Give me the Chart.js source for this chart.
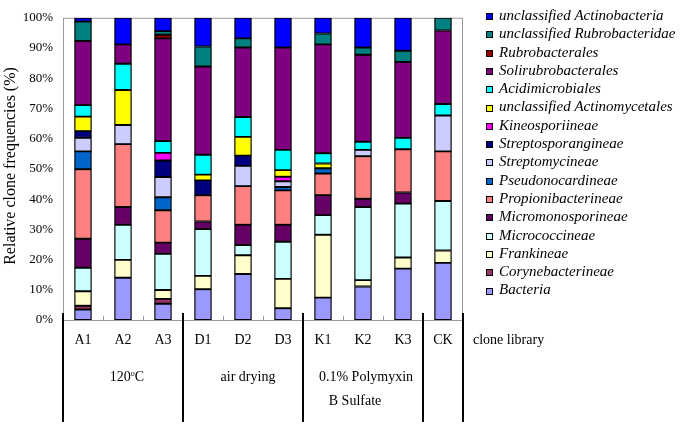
<!DOCTYPE html>
<html>
<head>
<meta charset="utf-8">
<script src="https://cdn.jsdelivr.net/npm/chart.js@4.4.1/dist/chart.umd.min.js"></script>
<style>
  html, body { margin: 0; padding: 0; background: #fff; }
  #wrap { width: 680px; height: 425px; }
</style>
</head>
<body>
<div id="wrap"><canvas id="chart" width="680" height="425"></canvas></div>
<script>
// ==== Data (percent of clones per library) ====
const libraries = ["A1", "A2", "A3", "D1", "D2", "D3", "K1", "K2", "K3", "CK"];
const groups = [
  { lines: ["120oC"], from: 0, to: 2 },
  { lines: ["air drying"], from: 3, to: 5 },
  { lines: ["0.1% Polymyxin", "B Sulfate"], from: 6, to: 8 },
  { lines: [], from: 9, to: 9 }
];
const yTicks = [0, 10, 20, 30, 40, 50, 60, 70, 80, 90, 100];

// bottom of the stack first
const bacteria            = [3.5, 14.0, 5.4, 10.2, 15.2, 3.9, 7.4, 11.1, 17.0, 18.9];
const corynebacterineae   = [1.2, 0, 1.6, 0, 0, 0, 0, 0, 0, 0];
const frankineae          = [4.8, 5.9, 2.9, 4.4, 6.2, 9.7, 20.8, 2.1, 3.7, 4.1];
const micrococcineae      = [7.8, 11.6, 12.0, 15.5, 3.4, 12.3, 6.5, 24.2, 17.8, 16.4];
const micromonosporineae  = [9.6, 5.9, 3.7, 2.5, 6.7, 5.6, 6.6, 2.7, 3.7, 0];
const propionibacterineae = [23.0, 20.8, 10.7, 8.7, 12.8, 11.4, 7.2, 14.1, 14.3, 16.4];
const pseudonocardineae   = [5.9, 0, 4.3, 0, 0, 1.1, 1.7, 0, 0, 0];
const streptomycineae     = [4.5, 6.3, 6.7, 0, 6.7, 1.9, 0, 2.1, 0, 11.9];
const streptosporangineae = [2.2, 0, 5.5, 4.9, 3.4, 0, 0, 0, 0, 0];
const kineosporiineae     = [0, 0, 2.5, 0, 0, 1.5, 0, 0, 0, 0];
const unclActinomycetales = [4.8, 11.6, 0, 1.9, 6.2, 2.2, 1.6, 0, 0, 0];
const acidimicrobiales    = [3.8, 8.7, 3.9, 6.6, 6.6, 6.7, 3.4, 2.7, 3.8, 3.8];
const solirubrobacterales = [21.2, 6.4, 34.0, 29.2, 23.0, 33.9, 36.0, 28.8, 25.1, 24.3];
const rubrobacterales     = [0, 0, 1.2, 0, 0, 0, 0, 0, 0, 0];
const unclRubrobacteridae = [6.5, 0, 1.2, 6.6, 3.0, 0, 3.6, 2.4, 3.7, 4.2];
const unclActinobacteria  = [1.2, 8.8, 4.4, 9.5, 6.8, 9.8, 5.2, 9.8, 10.9, 0];

const taxa = [
  ["Bacteria", bacteria, "#9999FF"],
  ["Corynebacterineae", corynebacterineae, "#993366"],
  ["Frankineae", frankineae, "#FFFFCC"],
  ["Micrococcineae", micrococcineae, "#CCFFFF"],
  ["Micromonosporineae", micromonosporineae, "#660066"],
  ["Propionibacterineae", propionibacterineae, "#FF8080"],
  ["Pseudonocardineae", pseudonocardineae, "#0066CC"],
  ["Streptomycineae", streptomycineae, "#CCCCFF"],
  ["Streptosporangineae", streptosporangineae, "#000080"],
  ["Kineosporiineae", kineosporiineae, "#FF00FF"],
  ["unclassified Actinomycetales", unclActinomycetales, "#FFFF00"],
  ["Acidimicrobiales", acidimicrobiales, "#00FFFF"],
  ["Solirubrobacterales", solirubrobacterales, "#800080"],
  ["Rubrobacterales", rubrobacterales, "#990000"],
  ["unclassified Rubrobacteridae", unclRubrobacteridae, "#008080"],
  ["unclassified Actinobacteria", unclActinobacteria, "#0000FF"]
];

const SERIF = '"Liberation Serif", "Times New Roman", serif';

// ==== Extra drawing: frame, group table, legend, axis title ====
const decorations = {
  id: "decorations",
  beforeDatasetsDraw(chart) {
    const ctx = chart.ctx;
    const a = chart.chartArea;
    ctx.save();
    ctx.strokeStyle = "#9a9a9a";
    ctx.lineWidth = 1;
    ctx.strokeRect(a.left + 0.5, a.top + 0.5, a.right - a.left - 1, a.bottom - a.top);
    ctx.restore();
  },
  afterDraw(chart) {
    const ctx = chart.ctx;
    const a = chart.chartArea;
    const x = chart.scales.x;
    const bound = i => (x.getPixelForValue(i - 1) + x.getPixelForValue(i)) / 2;

    ctx.save();
    // small ticks between bars inside a group
    ctx.strokeStyle = "#9a9a9a";
    ctx.lineWidth = 1;
    groups.forEach(g => {
      for (let i = g.from + 1; i <= g.to; i++) {
        const px = Math.round(bound(i)) + 0.5;
        ctx.beginPath();
        ctx.moveTo(px, a.bottom);
        ctx.lineTo(px, a.bottom - 4);
        ctx.stroke();
      }
    });

    // group separators
    ctx.strokeStyle = "#000";
    ctx.lineWidth = 2;
    const seps = [a.left];
    groups.forEach(g => seps.push(g.to === libraries.length - 1 ? a.right : bound(g.to + 1)));
    seps.forEach(px => {
      ctx.beginPath();
      ctx.moveTo(Math.round(px), a.bottom - 7);
      ctx.lineTo(Math.round(px), 422);
      ctx.stroke();
    });

    // group names
    ctx.fillStyle = "#000";
    ctx.textBaseline = "middle";
    groups.forEach((g, gi) => {
      const mid = x.getPixelForValue((g.from + g.to) / 2);
      g.lines.forEach((txt, li) => {
        const y = 377 + li * 24;
        if (txt === "120oC") {
          ctx.font = "14px " + SERIF;
          const w1 = ctx.measureText("120").width;
          const w3 = ctx.measureText("C").width;
          ctx.font = "8px " + SERIF;
          const w2 = ctx.measureText("o").width;
          let sx = mid + 4 - (w1 + w2 + w3) / 2;
          ctx.textAlign = "left";
          ctx.font = "14px " + SERIF;
          ctx.fillText("120", sx, y);
          ctx.font = "8px " + SERIF;
          ctx.fillText("o", sx + w1, y - 3);
          ctx.font = "14px " + SERIF;
          ctx.fillText("C", sx + w1 + w2, y);
        } else {
          ctx.font = "14px " + SERIF;
          ctx.textAlign = "center";
          const shift = gi === 2 ? (li === 0 ? 3 : -8) : 5;
          ctx.fillText(txt, mid + shift, y);
        }
      });
    });
    ctx.font = "14px " + SERIF;
    ctx.textAlign = "left";
    ctx.fillText("clone library", a.right + 10, 340);

    // y axis title
    ctx.save();
    ctx.translate(11, 166);
    ctx.rotate(-Math.PI / 2);
    ctx.textAlign = "center";
    ctx.font = "16px " + SERIF;
    ctx.fillText("Relative clone frequencies (%)", 0, 0);
    ctx.restore();

    // legend, top of the stack first
    ctx.font = "italic 15px " + SERIF;
    ctx.textAlign = "left";
    ctx.lineWidth = 1;
    ctx.strokeStyle = "#000";
    const ds = chart.data.datasets;
    for (let k = 0; k < ds.length; k++) {
      const d = ds[ds.length - 1 - k];
      const cy = 16 + k * 18.3;
      ctx.fillStyle = d.backgroundColor;
      ctx.fillRect(486, Math.round(cy) - 3, 7, 7);
      ctx.strokeRect(486.5, Math.round(cy) - 2.5, 6, 6);
      ctx.fillStyle = "#000";
      ctx.fillText(d.label, 499, cy);
    }
    ctx.restore();
  }
};

new Chart(document.getElementById("chart"), {
  type: "bar",
  data: {
    labels: libraries,
    datasets: taxa.map(([name, values, color]) => ({
      label: name,
      data: values,
      backgroundColor: color,
      borderColor: "#000",
      borderWidth: 1.3,
      borderSkipped: false,
      barThickness: 17
    }))
  },
  options: {
    responsive: false,
    animation: false,
    layout: { padding: { left: 0, right: 217, top: 7, bottom: 0 } },
    plugins: { legend: { display: false }, tooltip: { enabled: false } },
    scales: {
      x: {
        stacked: true,
        grid: { display: false, drawTicks: false },
        border: { display: false },
        ticks: { color: "#000", padding: 12, font: { family: SERIF, size: 14 } },
        afterFit: s => { s.height = 105; }
      },
      y: {
        stacked: true,
        min: 0,
        max: 100,
        afterBuildTicks: s => { s.ticks = yTicks.map(v => ({ value: v })); },
        grid: { display: false, drawTicks: false },
        border: { display: false },
        ticks: { color: "#000", padding: 10, font: { family: SERIF, size: 13 }, callback: v => v + "%" },
        afterFit: s => { s.width = 63; }
      }
    }
  },
  plugins: [decorations]
});
</script>
</body>
</html>
